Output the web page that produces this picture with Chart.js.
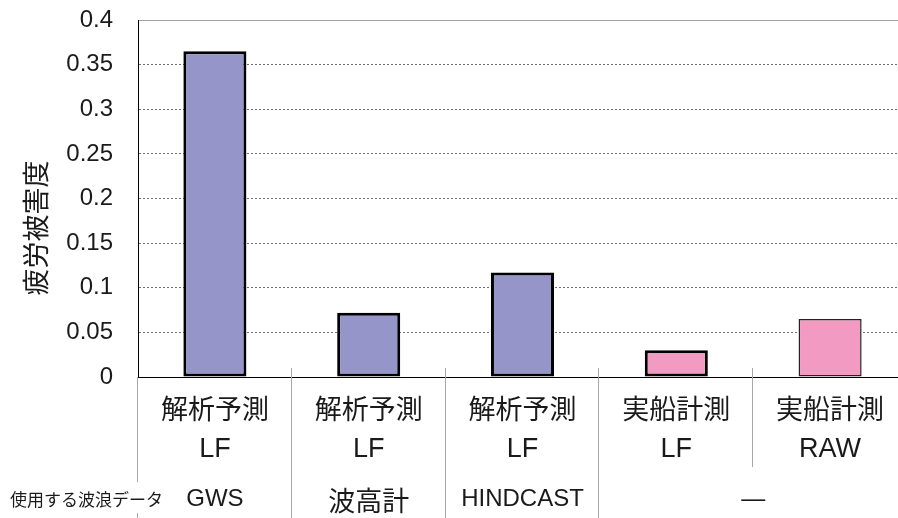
<!DOCTYPE html>
<html>
<head>
<meta charset="utf-8">
<script src="https://cdn.jsdelivr.net/npm/chart.js@4.4.1/dist/chart.umd.min.js"></script>
<style>
  html, body { margin: 0; padding: 0; background: #fff; overflow: hidden; }
  #chart { display: block; }
</style>
</head>
<body>
<canvas id="chart" width="910" height="518"></canvas>
<script>
// chart data
const categories = [['解析予測', 'LF'], ['解析予測', 'LF'], ['解析予測', 'LF'], ['実船計測', 'LF'], ['実船計測', 'RAW']];
const damageValues = [0.365, 0.072, 0.117, 0.030, 0.065];
const yMin = 0;
const yMax = 0.4;
const yStep = 0.05;
const yAxisTitle = '疲労被害度';
const waveRowTitle = '使用する波浪データ';
const waveLabels = ['GWS', '波高計', 'HINDCAST', '―'];
const waveSpans = [1, 1, 1, 2];

const barColors = ['#9595c9', '#9595c9', '#9595c9', '#f39ac2', '#f39ac2'];
const barBorders = [3, 3, 3, 3, 1.5];
const barBorderColors = ['#000', '#000', '#000', '#000', '#222'];

const LATIN_CJK = '"Liberation Sans", "Noto Sans CJK JP", sans-serif';
const CJK = '"Noto Sans CJK JP", sans-serif';
const TEXT = '#1a1a1a';

// separators + wave data row + rotated y title
const tableRow = {
  id: 'tableRow',
  afterDraw(chart) {
    const { ctx, scales: { x, y } } = chart;
    const step = x.getPixelForValue(1) - x.getPixelForValue(0);
    const edge = k => x.getPixelForValue(k) - step / 2;
    const base = y.getPixelForValue(0);

    ctx.save();
    ctx.strokeStyle = '#a8a8a8';
    ctx.lineWidth = 1;
    const seg = (px, y0, y1) => {
      const xx = Math.round(px) - 0.5;
      ctx.beginPath();
      ctx.moveTo(xx, y0);
      ctx.lineTo(xx, y1);
      ctx.stroke();
    };
    seg(edge(0), base, 482);
    seg(edge(0), 513, 518);
    for (let k = 1; k <= 3; k++) seg(edge(k), base - 9, 518);
    seg(edge(4), base - 9, 467);

    ctx.fillStyle = TEXT;
    ctx.textBaseline = 'middle';
    ctx.textAlign = 'left';
    ctx.font = '17px ' + CJK;
    ctx.fillText(waveRowTitle, 10, 500);

    ctx.textAlign = 'center';
    let start = 0;
    waveLabels.forEach((lab, i) => {
      const cx = (edge(start) + edge(start + waveSpans[i])) / 2;
      const isCjk = /[^\x00-\x7f]/.test(lab) && lab !== '―';
      ctx.font = (isCjk ? '27px ' : '24px ') + LATIN_CJK;
      ctx.fillText(lab, cx, isCjk ? 504 : 499);
      start += waveSpans[i];
    });

    ctx.translate(36, 228);
    ctx.rotate(-Math.PI / 2);
    ctx.font = '27px ' + CJK;
    ctx.fillText(yAxisTitle, 0, 0);
    ctx.restore();
  }
};

new Chart(document.getElementById('chart'), {
  type: 'bar',
  data: {
    labels: categories,
    datasets: [{
      data: damageValues,
      backgroundColor: barColors,
      borderColor: barBorderColors,
      borderWidth: barBorders,
      borderSkipped: false,
      barPercentage: 0.41,
      categoryPercentage: 1
    }]
  },
  options: {
    responsive: false,
    animation: false,
    layout: { padding: { top: 20, right: 3, left: 0, bottom: 0 } },
    plugins: { legend: { display: false }, tooltip: { enabled: false } },
    scales: {
      x: {
        afterFit(s) { s.height = 141; s.paddingLeft = 0; s.paddingRight = 0; },
        grid: { display: false, drawTicks: false },
        border: { display: true, color: '#000', width: 1 },
        ticks: {
          padding: 16,
          color: TEXT,
          maxRotation: 0,
          autoSkip: false,
          font: { family: LATIN_CJK, size: 27, lineHeight: 1.4 }
        }
      },
      y: {
        min: yMin,
        max: yMax,
        afterFit(s) { s.width = 138; s.paddingTop = 0; s.paddingBottom = 0; },
        grid: {
          drawTicks: false,
          color: c => c.index === 0 ? 'rgba(0,0,0,0)' : (c.index === 8 ? '#a0a0a0' : '#707070'),
          lineWidth: 1
        },
        border: {
          display: true,
          color: '#000',
          width: 1,
          dash: c => c.index === 8 ? [] : [2, 2]
        },
        ticks: {
          stepSize: yStep,
          padding: 25,
          color: TEXT,
          font: { family: LATIN_CJK, size: 24 },
          callback: v => String(Math.round(v * 100) / 100)
        }
      }
    }
  },
  plugins: [tableRow]
});
</script>
</body>
</html>
